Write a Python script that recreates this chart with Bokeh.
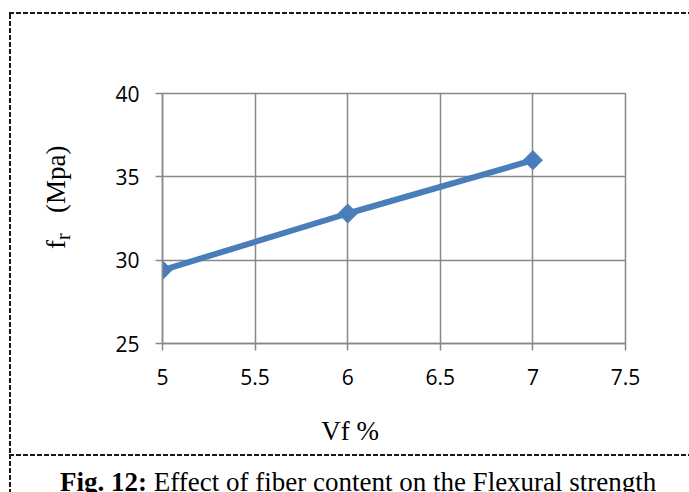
import numpy as np
from bokeh.plotting import figure
from bokeh.layouts import row, column
from bokeh.models import Range1d, FixedTicker, Div
from bokeh.embed import file_html
from bokeh.resources import INLINE

# Flexural strength against fibre volume fraction
vf = [5, 6, 7]
fr = [29.4, 32.8, 36.0]

x_ticks = [5, 5.5, 6, 6.5, 7, 7.5]
x_tick_labels = ["5", "5.5", "6", "6.5", "7", "7.5"]
y_ticks = [25, 30, 35, 40]
y_tick_labels = ["25", "30", "35", "40"]

x_title = "Vf %"
y_title_main, y_title_sub, y_title_unit = "f", "r", "(Mpa)"
caption_bold = "Fig. 12:"
caption_text = "Effect of fiber content on the Flexural strength"

GRID = "#898989"
BLUE = "#4a7ebb"
INK = "#1a1a1a"
SERIF = "Liberation Serif"
SANS = "Open Sans"

PAGE_W, PAGE_H = 689, 492
TOP_H, CAP_H, SIDE_W = 14, 38, 100
FIG_W, FIG_H = PAGE_W - SIDE_W, PAGE_H - TOP_H - CAP_H

p = figure(width=FIG_W, height=FIG_H, output_backend="svg", toolbar_location=None,
           x_range=Range1d(5, 7.5), y_range=Range1d(25, 40),
           min_border_left=62, min_border_right=64,
           min_border_top=79, min_border_bottom=111)

p.background_fill_color = "white"
p.border_fill_color = "white"
p.outline_line_color = GRID
p.outline_line_width = 1.5

for ax, ticks, labels in ((p.xaxis[0], x_ticks, x_tick_labels),
                          (p.yaxis[0], y_ticks, y_tick_labels)):
    ax.ticker = FixedTicker(ticks=ticks)
    ax.major_label_overrides = {float(t): s for t, s in zip(ticks, labels)}
    ax.axis_line_color = GRID
    ax.axis_line_width = 1.5
    ax.major_tick_line_color = GRID
    ax.major_tick_line_width = 1.5
    ax.major_tick_in = 0
    ax.major_tick_out = 7
    ax.minor_tick_line_color = None
    ax.major_label_text_font = SANS
    ax.major_label_text_font_size = "21px"
    ax.major_label_text_color = "black"

p.yaxis.major_label_standoff = 16
p.xaxis.major_label_standoff = 18

# x title: trailing no-break spaces move it left of the frame centre
p.xaxis.axis_label = x_title + "\u00a0" * 13
p.xaxis.axis_label_standoff = 28
p.xaxis.axis_label_text_font = SERIF
p.xaxis.axis_label_text_font_size = "27px"
p.xaxis.axis_label_text_font_style = "normal"
p.xaxis.axis_label_text_color = "black"

for g, ticks in ((p.xgrid[0], x_ticks), (p.ygrid[0], y_ticks)):
    g.ticker = FixedTicker(ticks=ticks)
    g.grid_line_color = GRID
    g.grid_line_width = 1.5

p.line(vf, fr, line_color=BLUE, line_width=6)
p.scatter(vf, fr, marker="square", angle=np.pi / 4, size=13.5,
          fill_color=BLUE, line_color=BLUE)


# dashed rules framing the figure and separating the caption
def dashes(direction):
    return (f"repeating-linear-gradient(to {direction}, {INK} 0px, {INK} 5px, "
            f"transparent 5px, transparent 7px)")


def rule(left, top, w, h, direction):
    return (f'<div style="position:absolute;left:{left}px;top:{top}px;width:{w}px;'
            f'height:{h}px;background:{dashes(direction)}"></div>')


def box(w, h, inner):
    return f'<div style="position:relative;width:{w}px;height:{h}px">{inner}</div>'


top_rule = Div(width=PAGE_W, height=TOP_H, margin=(0, 0, 0, 0),
               text=box(PAGE_W, TOP_H,
                        rule(9, 12, 2, 2, "bottom") + rule(9, 12, PAGE_W - 9, 2, "right")))

y_label = (f'<div style="position:absolute;left:41px;top:235px;transform-origin:0 0;'
           f'transform:rotate(-90deg);white-space:nowrap;font-family:\'{SERIF}\';'
           f'font-size:27px;line-height:31px;color:black">'
           f'{y_title_main}<span style="font-size:20px;position:relative;top:5px">'
           f'{y_title_sub}</span>&nbsp;&nbsp;&nbsp;{y_title_unit}</div>')
side = Div(width=SIDE_W, height=FIG_H, margin=(0, 0, 0, 0),
           text=box(SIDE_W, FIG_H, rule(9, 0, 2, FIG_H, "bottom") + y_label))

cap_line = (f'<div style="position:absolute;left:60px;top:13px;white-space:nowrap;'
            f'font-family:\'{SERIF}\';font-size:27px;line-height:31px;color:black">'
            f'<b>{caption_bold}</b> {caption_text}</div>')
caption = Div(width=PAGE_W, height=CAP_H, margin=(0, 0, 0, 0),
              text=box(PAGE_W, CAP_H,
                       rule(9, 0, 2, CAP_H, "bottom") + rule(9, 0, PAGE_W - 9, 2, "right")
                       + cap_line))

page = column(top_rule, row(side, p, spacing=0), caption, spacing=0)

open("out.html", "w").write(file_html(page, INLINE))
